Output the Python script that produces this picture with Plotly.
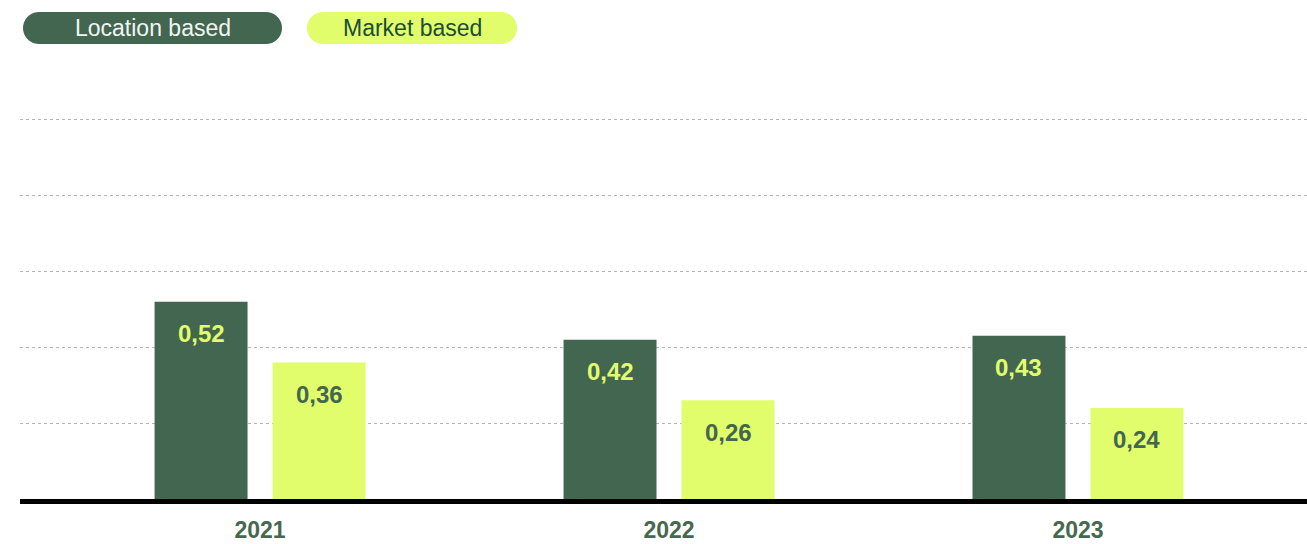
import math
import plotly.graph_objects as go

# Emission intensity by year, two accounting methods
years = ["2021", "2022", "2023"]
location_based = [0.52, 0.42, 0.43]
market_based = [0.36, 0.26, 0.24]
value_labels_location = ["0,52", "0,42", "0,43"]
value_labels_market = ["0,36", "0,26", "0,24"]
series_names = ["Location based", "Market based"]

DARK = "#436651"
LIME = "#e1fd6b"
FONT = "Liberation Sans, Arial, Helvetica, sans-serif"

W, H = 1307, 544
ML, MR, MT, MB = 20, 0, 112, 45
PW, PH = W - ML - MR, H - MT - MB

fig = go.Figure()
fig.add_trace(go.Bar(x=years, y=location_based, name=series_names[0],
                     marker=dict(color=DARK, line=dict(width=0)), hoverinfo="skip"))
fig.add_trace(go.Bar(x=years, y=market_based, name=series_names[1],
                     marker=dict(color=LIME, line=dict(width=0)), hoverinfo="skip"))

# Value labels placed a little below each bar top (x given as category index)
for i, (v, t) in enumerate(zip(location_based, value_labels_location)):
    fig.add_annotation(x=i, y=v, xref="x", yref="y", text=t, showarrow=False,
                       xshift=-59, yshift=-32, yanchor="middle",
                       font=dict(family=FONT, size=24, color=LIME, weight="bold"))
for i, (v, t) in enumerate(zip(market_based, value_labels_market)):
    fig.add_annotation(x=i, y=v, xref="x", yref="y", text=t, showarrow=False,
                       xshift=59, yshift=-32, yanchor="middle",
                       font=dict(family=FONT, size=24, color=DARK, weight="bold"))


def to_paper(px, py):
    """Pixel position on the page -> paper coordinates of the plot area."""
    return (px - ML) / PW, (H - MB - py) / PH


# Pill-shaped legend at the top
pills = [(23, 282, DARK, "#f1f5f1"), (307, 517, LIME, "#1d4d33")]
for (x0, x1, fill, tcol), name in zip(pills, series_names):
    y0, y1 = 12, 44
    r = (y1 - y0) / 2
    cyp = (y0 + y1) / 2
    pts = []
    for k in range(21):
        a = math.pi / 2 + math.pi * k / 20
        pts.append((x0 + r + r * math.cos(a), cyp - r * math.sin(a)))
    for k in range(21):
        a = -math.pi / 2 + math.pi * k / 20
        pts.append((x1 - r + r * math.cos(a), cyp - r * math.sin(a)))
    path = "M " + " L ".join(
        "{:.5f},{:.5f}".format(*to_paper(px, py)) for px, py in pts) + " Z"
    fig.add_shape(type="path", xref="paper", yref="paper", path=path,
                  line=dict(width=0), fillcolor=fill, layer="above")
    cx, cy = to_paper((x0 + x1) / 2, cyp)
    fig.add_annotation(x=cx, y=cy, xref="paper", yref="paper", text=name,
                       showarrow=False, xanchor="center", yanchor="middle",
                       font=dict(family=FONT, size=23, color=tcol))

fig.update_layout(
    width=W, height=H,
    margin=dict(l=ML, r=MR, t=MT, b=MB, autoexpand=False),
    paper_bgcolor="white", plot_bgcolor="white",
    barmode="group", bargap=0.423, bargroupgap=0.212,
    showlegend=False,
    xaxis=dict(type="category", range=[-0.587, 2.56], showgrid=False,
               automargin=False,
               showline=True, linecolor="black", linewidth=5,
               ticks="outside", ticklen=6, tickcolor="rgba(0,0,0,0)",
               tickfont=dict(family=FONT, size=23, color="#45684f", weight="bold")),
    yaxis=dict(range=[0, 1.02], tickvals=[0.2, 0.4, 0.6, 0.8, 1.0],
               automargin=False,
               showticklabels=False, showgrid=True, gridcolor="#b5b5b5",
               gridwidth=1, griddash="3px,3px", zeroline=False, showline=False),
)

fig.write_html("out.html")
